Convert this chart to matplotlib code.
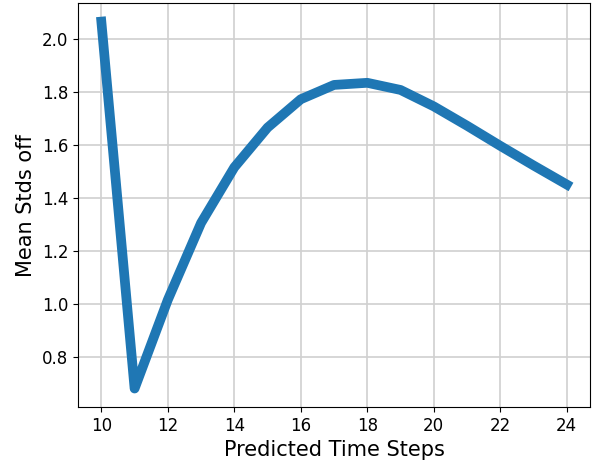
import numpy as np
import matplotlib
matplotlib.use("Agg")
import matplotlib.pyplot as plt

steps = [10, 11, 12, 13, 14, 15, 16, 17, 18, 19, 20, 21, 22, 23, 24]
mean_stds_off = [2.065, 0.68, 1.015, 1.305, 1.515, 1.665, 1.772, 1.826, 1.834, 1.807, 1.745, 1.672, 1.596, 1.522, 1.45]

fig, ax = plt.subplots(figsize=(5.96, 4.65), dpi=100)
ax.plot(steps, mean_stds_off, linewidth=7, color="tab:blue")
ax.set_xticks(np.arange(10, 25, 2))
ax.set_xlabel("Predicted Time Steps", fontsize=15)
ax.set_ylabel("Mean Stds off", fontsize=15)
ax.tick_params(labelsize=12)
ax.grid(True, color="#d0d0d0", linewidth=1.2)
fig.subplots_adjust(left=0.131, bottom=0.125, right=0.99, top=0.993)

fig.savefig("out.png")
